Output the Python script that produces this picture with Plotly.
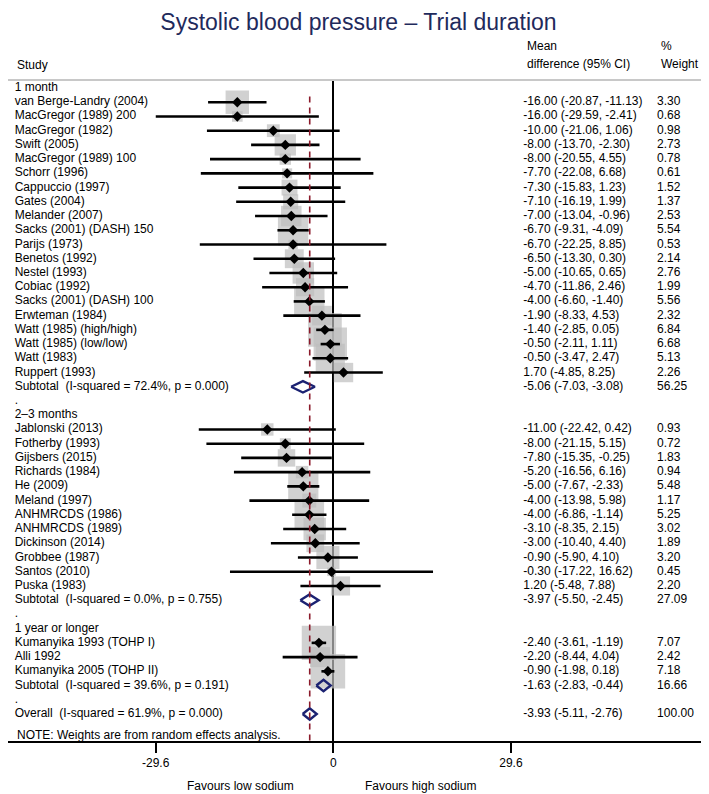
import plotly.graph_objects as go

# ---------------- data ----------------
group_names = ["1 month", "2\u20133 months", "1 year or longer"]

g1_studies = ["van Berge-Landry (2004)", "MacGregor (1989) 200", "MacGregor (1982)", "Swift (2005)",
              "MacGregor (1989) 100", "Schorr (1996)", "Cappuccio (1997)", "Gates (2004)",
              "Melander (2007)", "Sacks (2001) (DASH) 150", "Parijs (1973)", "Benetos (1992)",
              "Nestel (1993)", "Cobiac (1992)", "Sacks (2001) (DASH) 100", "Erwteman (1984)",
              "Watt (1985) (high/high)", "Watt (1985) (low/low)", "Watt (1983)", "Ruppert (1993)"]
g1_est = [-16.00, -16.00, -10.00, -8.00, -8.00, -7.70, -7.30, -7.10, -7.00, -6.70, -6.70, -6.50,
          -5.00, -4.70, -4.00, -1.90, -1.40, -0.50, -0.50, 1.70]
g1_lo = [-20.87, -29.59, -21.06, -13.70, -20.55, -22.08, -15.83, -16.19, -13.04, -9.31, -22.25, -13.30,
         -10.65, -11.86, -6.60, -8.33, -2.85, -2.11, -3.47, -4.85]
g1_hi = [-11.13, -2.41, 1.06, -2.30, 4.55, 6.68, 1.23, 1.99, -0.96, -4.09, 8.85, 0.30,
         0.65, 2.46, -1.40, 4.53, 0.05, 1.11, 2.47, 8.25]
g1_w = [3.30, 0.68, 0.98, 2.73, 0.78, 0.61, 1.52, 1.37, 2.53, 5.54, 0.53, 2.14,
        2.76, 1.99, 5.56, 2.32, 6.84, 6.68, 5.13, 2.26]

g2_studies = ["Jablonski (2013)", "Fotherby (1993)", "Gijsbers (2015)", "Richards (1984)", "He (2009)",
              "Meland (1997)", "ANHMRCDS (1986)", "ANHMRCDS (1989)", "Dickinson (2014)",
              "Grobbee (1987)", "Santos (2010)", "Puska (1983)"]
g2_est = [-11.00, -8.00, -7.80, -5.20, -5.00, -4.00, -4.00, -3.10, -3.00, -0.90, -0.30, 1.20]
g2_lo = [-22.42, -21.15, -15.35, -16.56, -7.67, -13.98, -6.86, -8.35, -10.40, -5.90, -17.22, -5.48]
g2_hi = [0.42, 5.15, -0.25, 6.16, -2.33, 5.98, -1.14, 2.15, 4.40, 4.10, 16.62, 7.88]
g2_w = [0.93, 0.72, 1.83, 0.94, 5.48, 1.17, 5.25, 3.02, 1.89, 3.20, 0.45, 2.20]

g3_studies = ["Kumanyika 1993 (TOHP I)", "Alli 1992", "Kumanyika 2005 (TOHP II)"]
g3_est = [-2.40, -2.20, -0.90]
g3_lo = [-3.61, -8.44, -1.98]
g3_hi = [-1.19, 4.04, 0.18]
g3_w = [7.07, 2.42, 7.18]

sub_labels = ["Subtotal\u00a0 (I-squared = 72.4%, p = 0.000)",
              "Subtotal\u00a0 (I-squared = 0.0%, p = 0.755)",
              "Subtotal\u00a0 (I-squared = 39.6%, p = 0.191)"]
sub_est = [-5.06, -3.97, -1.63]
sub_lo = [-7.03, -5.50, -2.83]
sub_hi = [-3.08, -2.45, -0.44]
sub_w = [56.25, 27.09, 16.66]

overall_label = "Overall\u00a0 (I-squared = 61.9%, p = 0.000)"
overall_est, overall_lo, overall_hi, overall_w = -3.93, -5.11, -2.76, 100.00

tick_vals = [-29.6, 0, 29.6]
tick_text = ["-29.6", "0", "29.6"]

# ---------------- build rows ----------------
groups = [(g1_studies, g1_est, g1_lo, g1_hi, g1_w),
          (g2_studies, g2_est, g2_lo, g2_hi, g2_w),
          (g3_studies, g3_est, g3_lo, g3_hi, g3_w)]

label_y, label_t = [], []
eff_y, eff_t, w_t = [], [], []
st_y, st_est, st_lo, st_hi, st_w = [], [], [], [], []
dia = []  # (row, lo, est, hi)
row = 0
for gi, (names, est, lo, hi, w) in enumerate(groups):
    label_y.append(row); label_t.append(group_names[gi]); row += 1
    for n, e, l, h, ww in zip(names, est, lo, hi, w):
        label_y.append(row); label_t.append(n)
        eff_y.append(row); eff_t.append(f"{e:.2f} ({l:.2f}, {h:.2f})"); w_t.append(f"{ww:.2f}")
        st_y.append(row); st_est.append(e); st_lo.append(l); st_hi.append(h); st_w.append(ww)
        row += 1
    label_y.append(row); label_t.append(sub_labels[gi])
    eff_y.append(row)
    eff_t.append(f"{sub_est[gi]:.2f} ({sub_lo[gi]:.2f}, {sub_hi[gi]:.2f})"); w_t.append(f"{sub_w[gi]:.2f}")
    dia.append((row, sub_lo[gi], sub_est[gi], sub_hi[gi]))
    row += 1
    label_y.append(row); label_t.append("."); row += 1
label_y.append(row); label_t.append(overall_label)
eff_y.append(row)
eff_t.append(f"{overall_est:.2f} ({overall_lo:.2f}, {overall_hi:.2f})"); w_t.append(f"{overall_w:.2f}")
dia.append((row, overall_lo, overall_est, overall_hi))
last_row = row

FONT = "Liberation Sans, Arial, Helvetica, sans-serif"
NAVY = "#1B2272"

fig = go.Figure()

# gray weight boxes
fig.add_trace(go.Scatter(x=st_est, y=st_y, mode="markers",
                         marker=dict(symbol="square", color="#BEBEBE",
                                     size=[12.9 * (w ** 0.5) for w in st_w], line=dict(width=0)),
                         hoverinfo="skip", cliponaxis=False))
# CI lines
cx, cy = [], []
for l, h, yy in zip(st_lo, st_hi, st_y):
    cx += [l, h, None]; cy += [yy, yy, None]
fig.add_trace(go.Scatter(x=cx, y=cy, mode="lines", line=dict(color="black", width=2.6),
                         hoverinfo="skip"))
# point estimates
fig.add_trace(go.Scatter(x=st_est, y=st_y, mode="markers",
                         marker=dict(symbol="diamond", color="black", size=8), hoverinfo="skip"))
# subtotal / overall diamonds
dx, dy = [], []
h = 0.4
for r, l, e, hh in dia:
    dx += [l, e, hh, e, l, None]; dy += [r, r - h, r, r + h, r, None]
fig.add_trace(go.Scatter(x=dx, y=dy, mode="lines", line=dict(color=NAVY, width=2.4),
                         hoverinfo="skip"))

# text columns
X_LABEL, X_EFF, X_W = -53.1, 31.67, 53.97
tf = dict(size=12, color="black", family=FONT)
fig.add_trace(go.Scatter(x=[X_LABEL] * len(label_y), y=label_y, mode="text", text=label_t,
                         textposition="middle right", textfont=tf,
                         hoverinfo="skip", cliponaxis=False))
fig.add_trace(go.Scatter(x=[X_EFF] * len(eff_y), y=eff_y, mode="text", text=eff_t,
                         textposition="middle right", textfont=tf,
                         hoverinfo="skip", cliponaxis=False))
fig.add_trace(go.Scatter(x=[X_W] * len(eff_y), y=eff_y, mode="text", text=w_t,
                         textposition="middle right", textfont=tf,
                         hoverinfo="skip", cliponaxis=False))

# page is offset by an 8px body margin
W, H = 701, 786
PLOT_H = 661
ROW_PX = 14.23
top_row = -8 / ROW_PX
bottom_row = last_row + (741 - 714) / ROW_PX


def py(screen_y):
    return (741 - screen_y) / PLOT_H


shapes = [
    dict(type="line", xref="paper", yref="paper", x0=-0.02, x1=1, y0=1, y1=1,
         line=dict(color="#C8C8C8", width=2)),
    dict(type="line", xref="x", yref="y", x0=overall_est, x1=overall_est, y0=0.6, y1=bottom_row,
         line=dict(color="#8B1A2B", width=1.6, dash="6px,5px")),
]

AX_LABEL, AX_EFF, AX_W = -53.55 + 0.5, 31.6 + 0.4, 53.9 + 0.4
annotations = [
    dict(x=AX_LABEL, y=py(65), xref="x", yref="paper", text="Study", showarrow=False, xanchor="left",
         yanchor="middle", font=tf),
    dict(x=AX_EFF, y=py(46), xref="x", yref="paper", text="Mean", showarrow=False, xanchor="left",
         yanchor="middle", font=tf),
    dict(x=AX_EFF, y=py(64), xref="x", yref="paper", text="difference (95% CI)", showarrow=False,
         xanchor="left", yanchor="middle", font=tf),
    dict(x=AX_W, y=py(46), xref="x", yref="paper", text="%", showarrow=False, xanchor="left",
         yanchor="middle", font=tf),
    dict(x=AX_W, y=py(64), xref="x", yref="paper", text="Weight", showarrow=False, xanchor="left",
         yanchor="middle", font=tf),
    dict(x=AX_LABEL, y=py(735), xref="x", yref="paper",
         text="NOTE: Weights are from random effects analysis.", showarrow=False, xanchor="left",
         yanchor="middle", font=tf),
    dict(x=-15.4, y=py(786), xref="x", yref="paper", text="Favours low sodium", showarrow=False,
         xanchor="center", yanchor="middle", font=tf),
    dict(x=14.5, y=py(786), xref="x", yref="paper", text="Favours high sodium", showarrow=False,
         xanchor="center", yanchor="middle", font=tf),
]

fig.update_layout(
    width=W, height=H,
    margin=dict(l=0, r=0, t=72, b=H - 72 - PLOT_H),
    paper_bgcolor="white", plot_bgcolor="white",
    showlegend=False,
    title=dict(text="Systolic blood pressure \u2013 Trial duration", x=0.5, xanchor="center",
               y=1 - 14 / H, yanchor="middle", font=dict(size=23, family=FONT, color="#1F2A5C")),
    xaxis=dict(range=[-325.3 / 6.0, 375.7 / 6.0], tickvals=tick_vals, ticktext=tick_text,
               showgrid=False, zeroline=True, zerolinecolor="black", zerolinewidth=1.6,
               showline=True, linecolor="black", linewidth=1.6, ticks="outside", ticklen=10,
               tickwidth=1.6, tickcolor="black", tickfont=tf, fixedrange=True),
    yaxis=dict(range=[bottom_row, top_row], visible=False, showgrid=False, zeroline=False,
               fixedrange=True),
    shapes=shapes, annotations=annotations,
)

fig.write_html("out.html")
